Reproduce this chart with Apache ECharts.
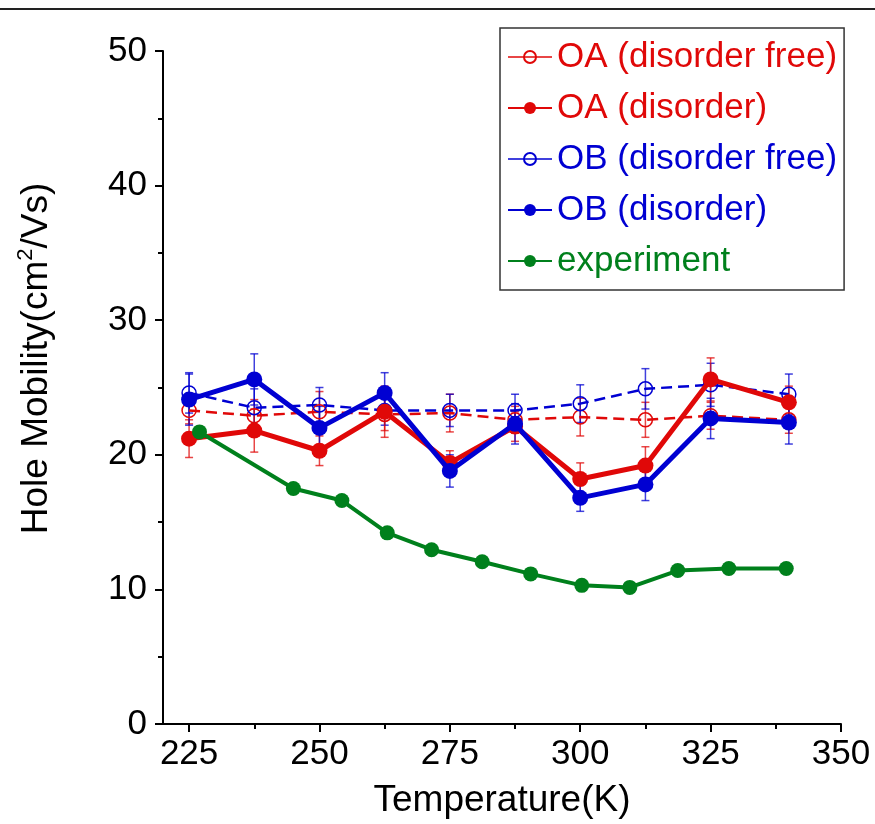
<!DOCTYPE html>
<html>
<head>
<meta charset="utf-8">
<script src="https://cdn.jsdelivr.net/npm/echarts@6/dist/echarts.min.js"></script>
<style>
  html, body { margin: 0; padding: 0; background: #fff; }
  #chart { width: 875px; height: 824px; }
</style>
</head>
<body>
<div id="chart"></div>
<script>
// Simulated temperatures (K)
const temps = [225, 237.5, 250, 262.5, 275, 287.5, 300, 312.5, 325, 340];

// Hole mobility (cm^2/Vs) with standard deviations
const oaFree    = [23.3, 22.9, 23.2, 23.0, 23.1, 22.6, 22.8, 22.6, 22.9, 22.6];
const oaFreeErr = [1.0, 1.2, 1.5, 1.2, 1.4, 1.0, 1.4, 1.3, 1.0, 1.0];
const oaDis     = [21.2, 21.8, 20.3, 23.2, 19.4, 22.1, 18.2, 19.2, 25.6, 23.9];
const oaDisErr  = [1.4, 1.6, 1.1, 1.9, 0.9, 1.1, 1.2, 1.4, 1.6, 1.2];
const obFree    = [24.6, 23.5, 23.7, 23.3, 23.3, 23.3, 23.8, 24.9, 25.2, 24.5];
const obFreeErr = [1.5, 1.4, 1.3, 1.1, 1.2, 1.2, 1.4, 1.5, 1.6, 1.5];
const obDis     = [24.1, 25.6, 22.0, 24.6, 18.8, 22.3, 16.8, 17.8, 22.7, 22.4];
const obDisErr  = [1.9, 1.9, 1.6, 1.5, 1.2, 1.5, 1.0, 1.2, 1.5, 1.6];

// Measured data
const expTemps = [227, 245, 254.3, 263, 271.5, 281.2, 290.5, 300.3, 309.5, 318.7, 328.5, 339.5];
const expMob   = [21.7, 17.5, 16.6, 14.2, 12.95, 12.05, 11.15, 10.3, 10.15, 11.4, 11.55, 11.55];

// Axis ticks
const xMajorTicks = [225, 250, 275, 300, 325, 350];
const xMinorTicks = [237.5, 262.5, 287.5, 312.5, 337.5];

const seriesNames = ['OA (disorder free)', 'OA (disorder)', 'OB (disorder free)', 'OB (disorder)', 'experiment'];

const RED = '#e00808';
const BLUE = '#0000d2';
const GREEN = '#00801c';
const FONT = 'Liberation Sans, Arial, sans-serif';

function pairs(xs, ys) { return xs.map((x, i) => [x, ys[i]]); }
function errData(xs, ys, es) { return xs.map((x, i) => [x, ys[i] - es[i], ys[i] + es[i]]); }

// Vertical error bars with small caps, drawn through the cartesian coordinate system
function errorBars(data, color, z) {
  return {
    type: 'custom',
    z: z,
    silent: true,
    data: data,
    encode: { x: 0, y: [1, 2] },
    renderItem: function (params, api) {
      const x = api.value(0);
      const top = api.coord([x, api.value(2)]);
      const bot = api.coord([x, api.value(1)]);
      const w = 4;
      const style = { stroke: color, lineWidth: 1.5, opacity: 0.75 };
      return {
        type: 'group',
        children: [
          { type: 'line', shape: { x1: top[0], y1: top[1], x2: bot[0], y2: bot[1] }, style: style },
          { type: 'line', shape: { x1: top[0] - w, y1: top[1], x2: top[0] + w, y2: top[1] }, style: style },
          { type: 'line', shape: { x1: bot[0] - w, y1: bot[1], x2: bot[0] + w, y2: bot[1] }, style: style }
        ]
      };
    }
  };
}

const chart = echarts.init(document.getElementById('chart'), null, { renderer: 'canvas' });

const option = {
  backgroundColor: '#fff',
  animation: false,
  textStyle: { fontFamily: FONT },
  graphic: [
    { type: 'line', shape: { x1: 0, y1: 9, x2: 875, y2: 9 }, style: { stroke: '#222', lineWidth: 2 } }
  ],
  grid: { left: 163, right: 34, top: 51, bottom: 98, containLabel: false },
  legend: {
    orient: 'vertical',
    left: 500,
    top: 28,
    padding: [9, 7, 9, 7],
    itemGap: 11,
    itemWidth: 44,
    itemHeight: 15,
    borderColor: '#333',
    borderWidth: 1.5,
    backgroundColor: '#fff',
    textStyle: { fontSize: 35, lineHeight: 40, fontFamily: FONT },
    data: [
      { name: seriesNames[0], textStyle: { color: RED }, lineStyle: { type: 'solid', width: 1.5 } },
      { name: seriesNames[1], textStyle: { color: RED } },
      { name: seriesNames[2], textStyle: { color: BLUE }, lineStyle: { type: 'solid', width: 1.5 } },
      { name: seriesNames[3], textStyle: { color: BLUE } },
      { name: seriesNames[4], textStyle: { color: GREEN } }
    ]
  },
  xAxis: [
    {
      type: 'value',
      min: 220,
      max: 350,
      position: 'bottom',
      name: 'Temperature(K)',
      nameLocation: 'middle',
      nameGap: 58,
      nameTextStyle: { fontSize: 37, color: '#000', fontFamily: FONT },
      axisLine: { show: true, lineStyle: { color: '#000', width: 2 } },
      axisTick: { show: true, inside: false, length: 8, lineStyle: { color: '#000', width: 2 }, customValues: xMajorTicks },
      axisLabel: { show: true, fontSize: 35, color: '#000', margin: 13, fontFamily: FONT, customValues: xMajorTicks },
      splitLine: { show: false }
    },
    {
      type: 'value',
      min: 220,
      max: 350,
      position: 'bottom',
      axisLine: { show: false },
      axisTick: { show: true, inside: false, length: 5, lineStyle: { color: '#000', width: 2 }, customValues: xMinorTicks },
      axisLabel: { show: false },
      splitLine: { show: false }
    }
  ],
  yAxis: {
    type: 'value',
    min: 0,
    max: 50,
    interval: 10,
    name: 'Hole Mobility(cm{sup|2}/Vs)',
    nameLocation: 'middle',
    nameGap: 104,
    nameTextStyle: {
      fontSize: 37,
      color: '#000',
      fontFamily: FONT,
      padding: [0, 0, 0, 58],
      rich: { sup: { fontSize: 22, color: '#000', fontFamily: FONT, verticalAlign: 'top', lineHeight: 44 } }
    },
    axisLine: { show: true, lineStyle: { color: '#000', width: 2 } },
    axisTick: { show: true, inside: false, length: 8, lineStyle: { color: '#000', width: 2 } },
    minorTick: { show: true, splitNumber: 2, length: 5, lineStyle: { color: '#000', width: 2 } },
    axisLabel: { fontSize: 35, color: '#000', margin: 16, fontFamily: FONT },
    splitLine: { show: false },
    minorSplitLine: { show: false }
  },
  series: [
    errorBars(errData(temps, oaFree, oaFreeErr), RED, 1),
    errorBars(errData(temps, obFree, obFreeErr), BLUE, 1),
    errorBars(errData(temps, oaDis, oaDisErr), RED, 1),
    errorBars(errData(temps, obDis, obDisErr), BLUE, 1),
    {
      name: seriesNames[0],
      type: 'line',
      z: 2,
      data: pairs(temps, oaFree),
      symbol: 'circle',
      symbolSize: 14,
      itemStyle: { color: 'rgba(255,255,255,0)', borderColor: RED, borderWidth: 1.5 },
      lineStyle: { color: RED, width: 2.5, type: [11, 6] }
    },
    {
      name: seriesNames[2],
      type: 'line',
      z: 2,
      data: pairs(temps, obFree),
      symbol: 'circle',
      symbolSize: 14,
      itemStyle: { color: 'rgba(255,255,255,0)', borderColor: BLUE, borderWidth: 1.5 },
      lineStyle: { color: BLUE, width: 2.5, type: [11, 6] }
    },
    {
      name: seriesNames[1],
      type: 'line',
      z: 3,
      data: pairs(temps, oaDis),
      symbol: 'circle',
      symbolSize: 16,
      itemStyle: { color: RED },
      lineStyle: { color: RED, width: 5 }
    },
    {
      name: seriesNames[3],
      type: 'line',
      z: 4,
      data: pairs(temps, obDis),
      symbol: 'circle',
      symbolSize: 16,
      itemStyle: { color: BLUE },
      lineStyle: { color: BLUE, width: 5 }
    },
    {
      name: seriesNames[4],
      type: 'line',
      z: 5,
      data: pairs(expTemps, expMob),
      symbol: 'circle',
      symbolSize: 15,
      itemStyle: { color: GREEN },
      lineStyle: { color: GREEN, width: 4 }
    }
  ]
};

chart.setOption(option);
</script>
</body>
</html>
